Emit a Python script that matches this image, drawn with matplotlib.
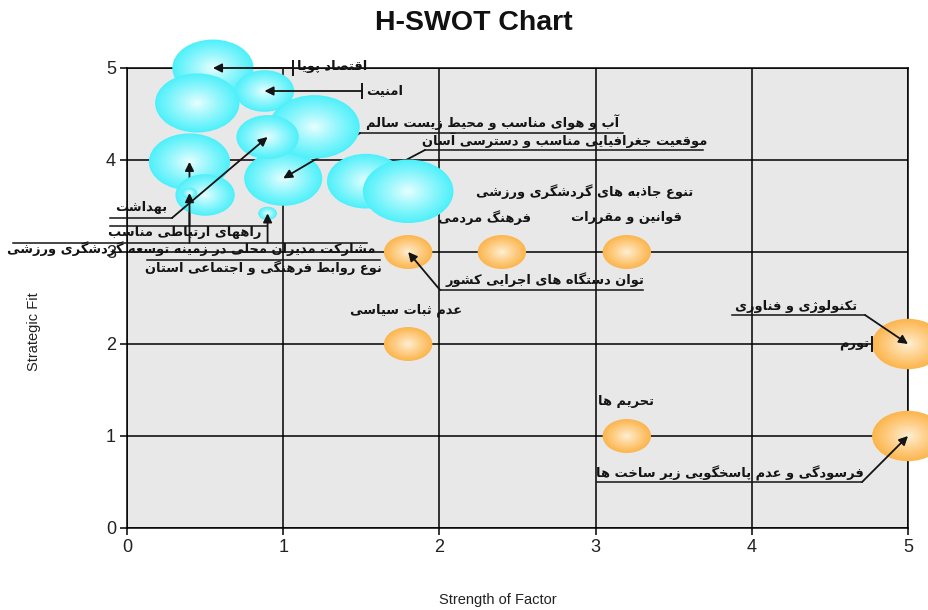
import numpy as np
import matplotlib
matplotlib.use("Agg")
import matplotlib.pyplot as plt
from matplotlib.patches import Ellipse

# ---------------- data ----------------
cyan_x = [0.55, 0.88, 0.45, 1.20, 0.90, 0.40, 0.50, 0.40, 1.00, 0.90, 1.53, 1.80]
cyan_y = [5.00, 4.75, 4.62, 4.36, 4.25, 3.98, 3.62, 3.64, 3.80, 3.42, 3.77, 3.66]
cyan_size = [0.26, 0.19, 0.27, 0.29, 0.20, 0.26, 0.19, 0.05, 0.25, 0.06, 0.25, 0.29]

orange_x = [1.8, 2.4, 3.2, 1.8, 3.2, 5.0, 5.0]
orange_y = [3.0, 3.0, 3.0, 2.0, 1.0, 2.0, 1.0]
orange_size = [0.155, 0.155, 0.155, 0.155, 0.155, 0.23, 0.23]

x_ticks = [0, 1, 2, 3, 4, 5]
y_ticks = [0, 1, 2, 3, 4, 5]

title = "H-SWOT Chart"
x_label = "Strength of Factor"
y_label = "Strategic Fit"

factor_labels = [
    "اقتصاد پویا",
    "امنیت",
    "آب و هوای مناسب و محیط زیست سالم",
    "موقعیت جغرافیایی مناسب و دسترسی آسان",
    "تنوع جاذبه های گردشگری ورزشی",
    "فرهنگ مردمی",
    "قوانین و مقررات",
    "توان دستگاه های اجرایی کشور",
    "عدم ثبات سیاسی",
    "تکنولوژی و فناوری",
    "تورم",
    "تحریم ها",
    "فرسودگی و عدم پاسخگویی زیر ساخت ها",
    "بهداشت",
    "راههای ارتباطی مناسب",
    "مشارکت مدیران محلی در زمینه توسعه گردشگری ورزشی",
    "نوع روابط فرهنگی و اجتماعی استان",
]

# ---------------- layout / styles ----------------
layout = [
    dict(tx=1.09, ty=5.02, ha="left", kind="bar", sx=1.063, tgt=("c", 0), z=5),
    dict(tx=1.53, ty=4.76, ha="left", kind="bar", sx=1.504, tgt=("c", 1), z=5),
    dict(tx=2.34, ty=4.41, ha="center", kind="under", ux=(1.492, 3.175), uy=4.293, sx=1.492, tgt=("c", 8), z=2.5),
    dict(tx=2.80, ty=4.22, ha="center", kind="under", ux=(1.908, 3.688), uy=4.109, sx=1.908, tgt=("c", 10), z=2.5),
    dict(tx=2.93, ty=3.652, ha="center", kind=None),
    dict(tx=2.286, ty=3.37, ha="center", kind=None),
    dict(tx=3.195, ty=3.37, ha="center", kind=None),
    dict(tx=2.676, ty=2.696, ha="center", kind="under", ux=(2.004, 3.303), uy=2.587, sx=2.004, tgt=("o", 0), z=5),
    dict(tx=1.786, ty=2.37, ha="center", kind=None),
    dict(tx=4.283, ty=2.413, ha="center", kind="under", ux=(3.873, 4.725), uy=2.315, sx=4.725, tgt=("o", 5), z=5),
    dict(tx=4.75, ty=1.99, ha="right", kind="barline", sx=4.770, tgt=("o", 5), z=1.9),
    dict(tx=3.195, ty=1.38, ha="center", kind=None),
    dict(tx=3.86, ty=0.598, ha="center", kind="under", ux=(3.009, 4.706), uy=0.50, sx=4.706, tgt=("o", 6), z=5),
    dict(tx=0.09, ty=3.489, ha="center", kind="under", ux=(-0.109, 0.288), uy=3.370, sx=0.288, tgt=("c", 4), z=5),
    dict(tx=0.371, ty=3.207, ha="center", kind="vert", ux=(-0.109, 0.896), uy=3.283, tgt=("c", 5), z=2.5),
    dict(tx=0.41, ty=3.033, ha="center", kind="vert", ux=(-0.730, 1.536), uy=3.098, tgt=("c", 9), z=5),
    dict(tx=0.871, ty=2.826, ha="center", kind="vert2", ux=(0.128, 1.620), uy=2.913, sy=3.098, tgt=("c", 7), z=5),
]

cyan_z = [2.0, 2.05, 2.1, 3.0, 3.1, 2.0, 3.0, 3.2, 2.0, 3.0, 3.0, 3.1]
orange_z = [2.0] * 7

YX = 1.19  # vertical / horizontal half-axis ratio in data units
CYAN_EDGE = np.array([80, 240, 250]) / 255
CYAN_CTR = np.array([238, 255, 255]) / 255
OR_EDGE = np.array([252, 182, 78]) / 255
OR_CTR = np.array([255, 242, 218]) / 255
INK = "#141414"
LABEL_SIZE = 9.4

# ---------------- Persian shaping ----------------
FORMS = {
    'ا': ('\uFE8D', '\uFE8E', None, None), 'آ': ('\uFE81', '\uFE82', None, None),
    'ب': ('\uFE8F', '\uFE90', '\uFE91', '\uFE92'), 'پ': ('\uFB56', '\uFB57', '\uFB58', '\uFB59'),
    'ت': ('\uFE95', '\uFE96', '\uFE97', '\uFE98'), 'ث': ('\uFE99', '\uFE9A', '\uFE9B', '\uFE9C'),
    'ج': ('\uFE9D', '\uFE9E', '\uFE9F', '\uFEA0'), 'چ': ('\uFB7A', '\uFB7B', '\uFB7C', '\uFB7D'),
    'ح': ('\uFEA1', '\uFEA2', '\uFEA3', '\uFEA4'), 'خ': ('\uFEA5', '\uFEA6', '\uFEA7', '\uFEA8'),
    'د': ('\uFEA9', '\uFEAA', None, None), 'ذ': ('\uFEAB', '\uFEAC', None, None),
    'ر': ('\uFEAD', '\uFEAE', None, None), 'ز': ('\uFEAF', '\uFEB0', None, None),
    'ژ': ('\uFB8A', '\uFB8B', None, None),
    'س': ('\uFEB1', '\uFEB2', '\uFEB3', '\uFEB4'), 'ش': ('\uFEB5', '\uFEB6', '\uFEB7', '\uFEB8'),
    'ص': ('\uFEB9', '\uFEBA', '\uFEBB', '\uFEBC'), 'ض': ('\uFEBD', '\uFEBE', '\uFEBF', '\uFEC0'),
    'ط': ('\uFEC1', '\uFEC2', '\uFEC3', '\uFEC4'), 'ظ': ('\uFEC5', '\uFEC6', '\uFEC7', '\uFEC8'),
    'ع': ('\uFEC9', '\uFECA', '\uFECB', '\uFECC'), 'غ': ('\uFECD', '\uFECE', '\uFECF', '\uFED0'),
    'ف': ('\uFED1', '\uFED2', '\uFED3', '\uFED4'), 'ق': ('\uFED5', '\uFED6', '\uFED7', '\uFED8'),
    'ک': ('\uFB8E', '\uFB8F', '\uFB90', '\uFB91'), 'گ': ('\uFB92', '\uFB93', '\uFB94', '\uFB95'),
    'ل': ('\uFEDD', '\uFEDE', '\uFEDF', '\uFEE0'), 'م': ('\uFEE1', '\uFEE2', '\uFEE3', '\uFEE4'),
    'ن': ('\uFEE5', '\uFEE6', '\uFEE7', '\uFEE8'), 'ه': ('\uFEE9', '\uFEEA', '\uFEEB', '\uFEEC'),
    'و': ('\uFEED', '\uFEEE', None, None), 'ی': ('\uFBFC', '\uFBFD', '\uFBFE', '\uFBFF'),
    'ئ': ('\uFE89', '\uFE8A', '\uFE8B', '\uFE8C'),
}
LAMALEF = {'ا': ('\uFEFB', '\uFEFC'), 'آ': ('\uFEF5', '\uFEF6')}


def shape(text):
    chars = list(text)
    out = []
    i = 0
    n = len(chars)
    while i < n:
        c = chars[i]
        if c not in FORMS:
            out.append(c)
            i += 1
            continue
        prev = chars[i - 1] if i > 0 else None
        pj = prev in FORMS and FORMS[prev][2] is not None
        if c == 'ل' and i + 1 < n and chars[i + 1] in LAMALEF:
            out.append(LAMALEF[chars[i + 1]][1 if pj else 0])
            i += 2
            continue
        nxt = chars[i + 1] if i + 1 < n else None
        nj = FORMS[c][2] is not None and nxt in FORMS
        iso, fin, ini, med = FORMS[c]
        if pj and nj:
            out.append(med)
        elif pj:
            out.append(fin)
        elif nj:
            out.append(ini)
        else:
            out.append(iso)
        i += 1
    return "".join(reversed(out))


# ---------------- figure ----------------
fig = plt.figure(figsize=(9.29, 6.10), dpi=100)
fig.patch.set_facecolor("white")
ax = fig.add_axes([127 / 929, 1 - 528 / 610, 781 / 929, 460 / 610])
ax.set_facecolor("#E8E8E8")
ax.set_xlim(0, 5)
ax.set_ylim(0, 5)
ax.set_xticks(x_ticks)
ax.set_yticks(y_ticks)
ax.grid(True, color="black", lw=1.1, zorder=0.5)
ax.set_axisbelow(True)
for s in ax.spines.values():
    s.set_color("black")
    s.set_linewidth(1.1)
    s.set_zorder(0.6)
ax.tick_params(axis="both", direction="out", length=5, width=1.1, color="black",
               labelsize=13, pad=3)
for lab in ax.get_xticklabels() + ax.get_yticklabels():
    lab.set_family(["Liberation Sans Narrow", "Liberation Sans", "DejaVu Sans"])
    lab.set_color("#222222")


def bubble(x, y, r, c_edge, c_ctr, z, n=22):
    for k in range(n):
        t = 1 - k / n
        g = t ** 0.9
        col = np.clip(c_ctr + (c_edge - c_ctr) * g, 0, 1)
        ax.add_patch(Ellipse((x, y), 2 * r * t, 2 * r * YX * t, facecolor=col,
                             edgecolor="none", zorder=z, clip_on=False))


for x, y, r, z in zip(cyan_x, cyan_y, cyan_size, cyan_z):
    bubble(x, y, r, CYAN_EDGE, CYAN_CTR, z)
for x, y, r, z in zip(orange_x, orange_y, orange_size, orange_z):
    bubble(x, y, r, OR_EDGE, OR_CTR, z)


def target(t):
    s, i = t
    if s == "c":
        return cyan_x[i], cyan_y[i]
    return orange_x[i], orange_y[i]


AP = dict(arrowstyle="-|>", color=INK, lw=1.3, mutation_scale=13, shrinkA=0, shrinkB=0)

for text, L in zip(factor_labels, layout):
    ax.text(L["tx"], L["ty"], shape(text), ha=L["ha"], va="center", fontsize=LABEL_SIZE,
            family="DejaVu Sans", weight="bold", color=INK, zorder=6, clip_on=False)
    kind = L["kind"]
    if kind is None:
        continue
    bx, by = target(L["tgt"])
    z = L["z"]
    if kind in ("bar", "barline"):
        ax.plot([L["sx"]], [by], marker="|", ms=12, mew=1.4, color=INK, zorder=5, clip_on=False)
        if kind == "bar":
            ax.annotate("", xy=(bx, by), xytext=(L["sx"], by), arrowprops=AP, zorder=z,
                        annotation_clip=False)
        else:
            ax.plot([L["sx"], bx], [by, by], color=INK, lw=1.2, zorder=z, clip_on=False)
    elif kind == "under":
        ax.plot(L["ux"], [L["uy"], L["uy"]], color=INK, lw=1.1, zorder=5, clip_on=False)
        ax.annotate("", xy=(bx, by), xytext=(L["sx"], L["uy"]), arrowprops=AP, zorder=z,
                    annotation_clip=False)
    elif kind == "vert":
        ax.plot(L["ux"], [L["uy"], L["uy"]], color=INK, lw=1.1, zorder=5, clip_on=False)
        ax.annotate("", xy=(bx, by), xytext=(bx, L["uy"]), arrowprops=AP, zorder=z,
                    annotation_clip=False)
    elif kind == "vert2":
        ax.plot(L["ux"], [L["uy"], L["uy"]], color=INK, lw=1.1, zorder=5, clip_on=False)
        ax.annotate("", xy=(bx, by), xytext=(bx, L["sy"]), arrowprops=AP, zorder=z,
                    annotation_clip=False)

fig.text(0.510, 0.962, title, ha="center", va="center", fontsize=20.5, weight="bold",
         family=["Liberation Sans", "DejaVu Sans"], color="#111111")
fig.text(0.536, 0.016, x_label, ha="center", va="center", fontsize=10.5,
         family=["Liberation Sans Narrow", "Liberation Sans", "DejaVu Sans"], color="#222222")
fig.text(0.0366, 0.456, y_label, ha="center", va="center", fontsize=10.5, rotation=90,
         family=["Liberation Sans Narrow", "Liberation Sans", "DejaVu Sans"], color="#222222")

fig.savefig("out.png", dpi=100, facecolor="white")
